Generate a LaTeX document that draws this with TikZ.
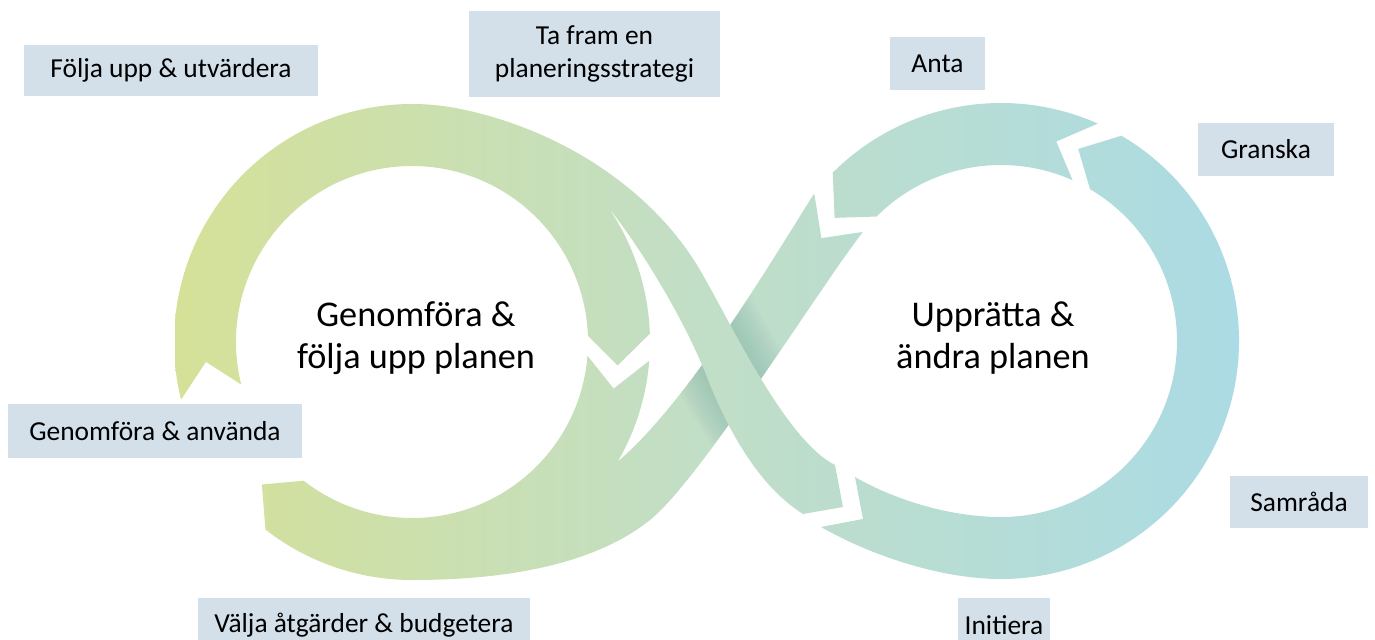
\documentclass[tikz,border=0pt]{standalone}
\usepackage{fontspec}
\setmainfont{Carlito}
\definecolor{ribbonleft}{RGB}{213,225,152}
\definecolor{ribbonmid}{RGB}{193,222,199}
\definecolor{ribbonright}{RGB}{171,219,228}
\definecolor{labelfill}{RGB}{211,224,234}
\definecolor{shadowtone}{RGB}{40,85,75}
\begin{document}
\begin{tikzpicture}[x=0.01cm, y=-0.01cm,
  every node/.style={font=\fontsize{7.8pt}{9.2pt}\selectfont},
  stage/.style={fill=labelfill, inner sep=0pt, align=center},
  phase/.style={font=\fontsize{10.3pt}{12pt}\selectfont, align=center},
  ribbon/.style={left color=ribbonleft, right color=ribbonright, middle color=ribbonmid}]
  \useasboundingbox (0,0) rectangle (1375,639);
  \clip (0,0) rectangle (1375,639);
  \coordinate (L) at (412,342);
  \coordinate (R) at (1001,341);

  \begin{scope}
    \clip ([shift={(4.5:238)}]L) -- ([shift={(13:207)}]L) -- ([shift={(4.5:176)}]L)
      arc[start angle=4.5, end angle=128, radius=176]
      -- ([shift={(136.5:207)}]L) -- ([shift={(128:238)}]L)
      arc[start angle=128, end angle=90, radius=238]
      .. controls (520,580) and (600,560) .. (650,520)
      .. controls (700,480) and (820,287) .. ([shift={(-141.7:176)}]R)
      -- ([shift={(-150.2:207)}]R) -- ([shift={(-141.7:238)}]R)
      .. controls (775,255) and (690,400) .. ([shift={(30.2:238)}]L)
      arc[start angle=30.2, end angle=4.5, radius=238] -- cycle;
    \shade[ribbon] (175,0) rectangle (1240,639);
    \foreach \w in {13.5,14.5,...,31.5}
      \draw[shadowtone, opacity=0.009, line width=\w pt] (650,215) .. controls (690,290) and (730,400) .. (820,490);
  \end{scope}

  \begin{scope}
    \clip ([shift={(166:176)}]L) arc[start angle=166, end angle=358, radius=176]
      -- ([shift={(366.5:207)}]L) -- ([shift={(358:238)}]L)
      arc[start angle=358, end angle=325.4, radius=238]
      .. controls (645,253) and (690,330) .. (710,385)
      .. controls (735,445) and (765,490) .. (803,514)
      -- (843,507) -- (835,465)
      .. controls (785,440) and (730,321) .. (700,270)
      .. controls (650,185) and (553,126) .. ([shift={(280:238)}]L)
      arc[start angle=280, end angle=166, radius=238]
      -- ([shift={(174.5:207)}]L) -- cycle;
    \shade[ribbon] (175,0) rectangle (1240,639);
  \end{scope}

  \begin{scope}
    \clip (821,527) -- (863,519) -- (855,477)
      .. controls (895,500) and (950,517) .. ([shift={(90:176)}]R)
      arc[start angle=90, end angle=-59.6, radius=176]
      -- ([shift={(-68.1:207)}]R) -- ([shift={(-59.6:238)}]R)
      arc[start angle=-59.6, end angle=90, radius=238]
      .. controls (940,579) and (870,555) .. (821,527) -- cycle;
    \shade[ribbon] (175,0) rectangle (1240,639);
  \end{scope}

  \begin{scope}
    \clip ([shift={(-66:238)}]R) -- ([shift={(-74.5:207)}]R) -- ([shift={(-66:176)}]R)
      arc[start angle=-66, end angle=-135, radius=176]
      -- ([shift={(-143.5:207)}]R) -- ([shift={(-135:238)}]R)
      arc[start angle=-135, end angle=-66, radius=238] -- cycle;
    \shade[ribbon] (175,0) rectangle (1240,639);
  \end{scope}

  \node[stage, minimum width=2.94cm, minimum height=0.51cm] (follow) at (171,70.5) {Följa upp \& utvärdera};
  \node[stage, minimum width=2.51cm, minimum height=0.86cm] (strategy) at (594.5,54) {Ta fram en\\planeringsstrategi};
  \node[stage, minimum width=0.95cm, minimum height=0.53cm] (adopt) at (937.5,63.5) {Anta};
  \node[stage, minimum width=1.36cm, minimum height=0.53cm] (review) at (1266,149.5) {Granska};
  \node[stage, minimum width=1.38cm, minimum height=0.52cm] (consult) at (1299,502) {Samråda};
  \node[stage, minimum width=0.92cm, minimum height=0.54cm] (initiate) at (1004,625) {Initiera};
  \node[stage, minimum width=3.32cm, minimum height=0.54cm] (choose) at (364,625) {Välja åtgärder \& budgetera};
  \node[stage, minimum width=2.94cm, minimum height=0.54cm] (use) at (155,431) {Genomföra \& använda};
  \node[phase] (implement) at (416,338) {Genomföra \&\\följa upp planen};
  \node[phase] (establish) at (993,338) {Upprätta \&\\ändra planen};
\end{tikzpicture}
\end{document}
